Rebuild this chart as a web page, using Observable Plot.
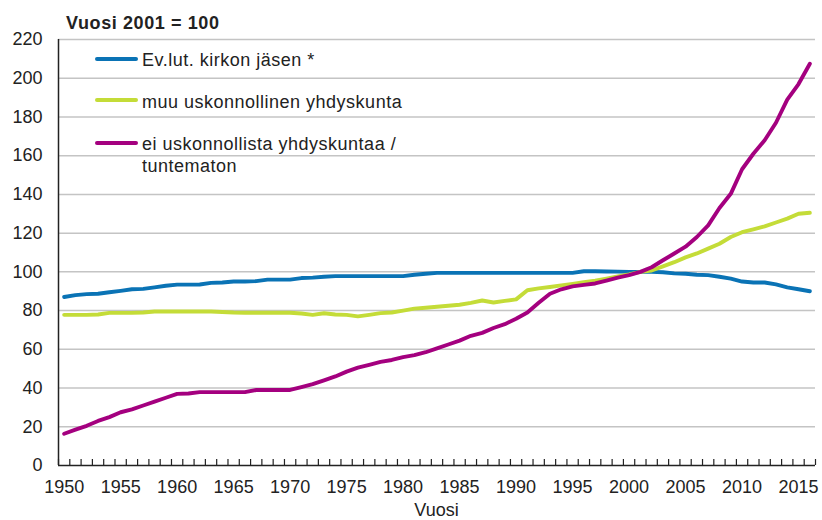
<!DOCTYPE html>
<html>
<head>
<meta charset="utf-8">
<script src="https://cdn.jsdelivr.net/npm/d3@7"></script>
<script src="https://cdn.jsdelivr.net/npm/@observablehq/plot@0.6"></script>
<style>
  body { margin: 0; background: #fff; }
  #wrap { position: relative; width: 822px; height: 520px; font-family: "Liberation Sans", Arial, sans-serif; color: #222; }
  .t { position: absolute; font-size: 18px; line-height: 22px; white-space: nowrap; }
  .sw { position: absolute; left: 95px; width: 43px; height: 4px; border-radius: 2px; }
</style>
</head>
<body>
<div id="wrap"></div>
<script>
const years = d3.range(1950, 2017);
const seriesNames = ["Ev.lut. kirkon jäsen *", "muu uskonnollinen yhdyskunta", "ei uskonnollista yhdyskuntaa / tuntematon"];
const colors = ["#0a73b5", "#c4dc38", "#a4007f"];

const evlut = [87, 88, 88.5, 88.7, 89.5, 90.2, 91, 91.2, 92, 92.8,
  93.4, 93.4, 93.5, 94.3, 94.5, 95, 95, 95.2, 96, 96,
  96, 96.8, 97, 97.5, 97.8, 97.8, 97.8, 97.8, 97.8, 97.8,
  97.8, 98.5, 99, 99.5, 99.5, 99.5, 99.5, 99.5, 99.5, 99.5,
  99.5, 99.5, 99.5, 99.5, 99.5, 99.5, 100.3, 100.3, 100.2, 100.1,
  100, 100, 100, 99.8, 99.2, 99, 98.5, 98.3, 97.5, 96.5,
  95, 94.5, 94.5, 93.5, 92, 91, 90];
const muu = [77.8, 77.8, 77.8, 78, 78.8, 78.8, 78.8, 79, 79.5, 79.5,
  79.5, 79.5, 79.5, 79.5, 79.3, 79, 78.9, 78.9, 78.9, 78.9,
  78.9, 78.5, 77.8, 78.6, 78, 77.8, 77, 77.8, 78.7, 79,
  80, 81, 81.5, 82, 82.5, 83, 84, 85.2, 84.2, 85,
  85.8, 90.5, 91.5, 92.2, 93, 93.8, 94.7, 95.5, 96.5, 97.6,
  98.7, 100, 100.7, 102.8, 105, 107.5, 109.5, 112, 114.5, 118,
  120.5, 122, 123.5, 125.5, 127.5, 130, 130.5];
const eiusk = [16.4, 18.5, 20.5, 23, 25, 27.5, 29, 31, 33, 35,
  37, 37.2, 37.9, 37.9, 37.9, 37.9, 37.9, 39, 39, 39,
  39, 40.5, 42, 44, 46, 48.5, 50.5, 52, 53.5, 54.5,
  56, 57, 58.5, 60.5, 62.5, 64.5, 67, 68.5, 71, 73,
  75.8, 79, 84, 88.7, 91, 92.5, 93.3, 94, 95.5, 97,
  98.3, 100, 102.4, 106, 109.5, 113, 118, 124, 133, 140.3,
  153, 161, 168, 177, 189, 197, 207.5];
const yTicks = [0, 20, 40, 60, 80, 100, 120, 140, 160, 180, 200, 220];
const xTickLabels = [1950, 1955, 1960, 1965, 1970, 1975, 1980, 1985, 1990, 1995, 2000, 2005, 2010, 2015];
const boundaries = d3.range(1949.5, 2017, 1);

const rows = [];
[evlut, muu, eiusk].forEach((vals, i) => {
  years.forEach((yr, j) => rows.push({series: seriesNames[i], year: yr, value: vals[j]}));
});

const chart = Plot.plot({
  width: 822,
  height: 520,
  marginLeft: 58,
  marginRight: 7,
  marginTop: 39,
  marginBottom: 55,
  style: {fontFamily: "'Liberation Sans', Arial, sans-serif", fontSize: "18px", color: "#222", background: "#fff"},
  x: {domain: [1949.5, 2016.5]},
  y: {domain: [0, 220]},
  color: {domain: seriesNames, range: colors},
  marks: [
    Plot.gridY(yTicks.filter(d => d > 0), {stroke: "#c4c4c4", strokeOpacity: 1, strokeWidth: 1.5}),
    Plot.axisY(yTicks, {tickSize: 0, tickPadding: 16, label: null, fill: "#222"}),
    Plot.axisX(boundaries, {tickSize: -6, tickFormat: () => "", label: null, stroke: "#222", strokeWidth: 1.2}),
    Plot.axisX(xTickLabels, {tickSize: 0, tickPadding: 15, tickFormat: d => String(d), label: null, fill: "#222"}),
    Plot.ruleX([1949.5], {stroke: "#222", strokeWidth: 1.5}),
    Plot.ruleY([0], {stroke: "#222", strokeWidth: 1.5}),
    Plot.line(rows, {x: "year", y: "value", z: "series", stroke: "series", strokeWidth: 3.9, strokeLinecap: "round", strokeLinejoin: "round"})
  ]
});

const wrap = document.getElementById("wrap");
wrap.appendChild(chart);
chart.style.position = "absolute";
chart.style.left = "0";
chart.style.top = "0";

function addText(txt, left, top, extra) {
  const d = document.createElement("div");
  d.className = "t";
  d.textContent = txt;
  d.style.left = left + "px";
  d.style.top = top + "px";
  if (extra) Object.assign(d.style, extra);
  wrap.appendChild(d);
  return d;
}
addText("Vuosi 2001 = 100", 66, 12, {fontWeight: "bold", letterSpacing: "0.6px"});
addText("Vuosi", 0, 499, {width: "873px", textAlign: "center"});

const legendRows = [
  {lines: ["Ev.lut. kirkon jäsen *"], sw: 57, top: 49},
  {lines: ["muu uskonnollinen yhdyskunta"], sw: 98, top: 91},
  {lines: ["ei uskonnollista yhdyskuntaa /", "tuntematon"], sw: 141, top: 133}
];
legendRows.forEach((r, i) => {
  const s = document.createElement("div");
  s.className = "sw";
  s.style.top = r.sw + "px";
  s.style.background = colors[i];
  wrap.appendChild(s);
  r.lines.forEach((ln, k) => addText(ln, 142, r.top + k * 22, {letterSpacing: "0.5px"}));
});
</script>
</body>
</html>
